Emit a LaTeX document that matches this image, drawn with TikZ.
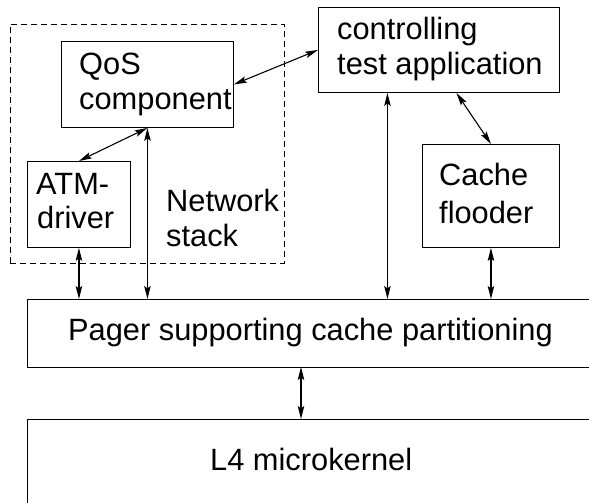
\documentclass[tikz,border=0pt]{standalone}
\usepackage{fontspec}
\setmainfont{Liberation Sans}
\usetikzlibrary{arrows.meta,calc}
\begin{document}
\begin{tikzpicture}[x=1bp,y=-1bp,
  box/.style={draw,line width=0.9bp,rectangle,inner sep=0pt,anchor=north west},
  lbl/.style={anchor=base west,inner sep=0pt,font=\fontsize{30.8bp}{35bp}\selectfont},
  conn/.style={line width=1.1bp,{Stealth[length=13bp,width=6.5bp,inset=2.5bp]}-{Stealth[length=13bp,width=6.5bp,inset=2.5bp]}}]
\useasboundingbox (0,0) rectangle (589,503);
\clip (0,0) rectangle (589,503);
% boxes
\node[draw,dash pattern=on 6bp off 4bp,line width=0.8bp,rectangle,inner sep=0pt,anchor=north west,minimum width=274bp,minimum height=239bp] (net) at (10,24) {};
\node[box,minimum width=172bp,minimum height=86bp] (qos) at (61,41) {};
\node[box,minimum width=103bp,minimum height=86bp] (atm) at (27,161) {};
\node[box,minimum width=241bp,minimum height=85bp] (ctrl) at (318,7) {};
\node[box,minimum width=137bp,minimum height=103bp] (cache) at (422,144) {};
\node[box,minimum width=600bp,minimum height=68bp] (pager) at (27,299) {};
\node[box,minimum width=600bp,minimum height=120bp] (l4) at (27,419) {};
% texts
\node[lbl] (t1) at (79,75) {QoS};
\node[lbl] (t2) at (79,110) {component};
\node[lbl] (t3) at (36,195) {ATM-};
\node[lbl] (t4) at (37,229) {driver};
\node[lbl] (t5) at (166,212) {Network};
\node[lbl] (t6) at (166,246) {stack};
\node[lbl] (t7) at (337,40) {controlling};
\node[lbl] (t8) at (337,75) {test application};
\node[lbl] (t9) at (439,186) {Cache};
\node[lbl] (t10) at (439,224) {flooder};
\node[lbl] (t11) at (68,340) {Pager supporting cache partitioning};
\node[lbl] (t12) at (210,470) {L4 microkernel};
% connectors
\coordinate (cv) at ([xshift=-51.5bp]ctrl.south);
\coordinate (cc) at ([xshift=17.5bp]ctrl.south);
\coordinate (pl) at (301,367);
\draw[conn] (qos.east) -- (ctrl.west);
\draw[conn] (atm.north) -- (qos.south);
\draw[conn] (qos.south) -- (qos.south |- pager.north);
\draw[conn] (atm.south) -- (atm.south |- pager.north);
\draw[conn] (cv) -- (cv |- pager.north);
\draw[conn] (cc) -- (cache.north);
\draw[conn] (cache.south) -- (cache.south |- pager.north);
\draw[conn] (pl) -- (pl |- l4.north);
\end{tikzpicture}
\end{document}
